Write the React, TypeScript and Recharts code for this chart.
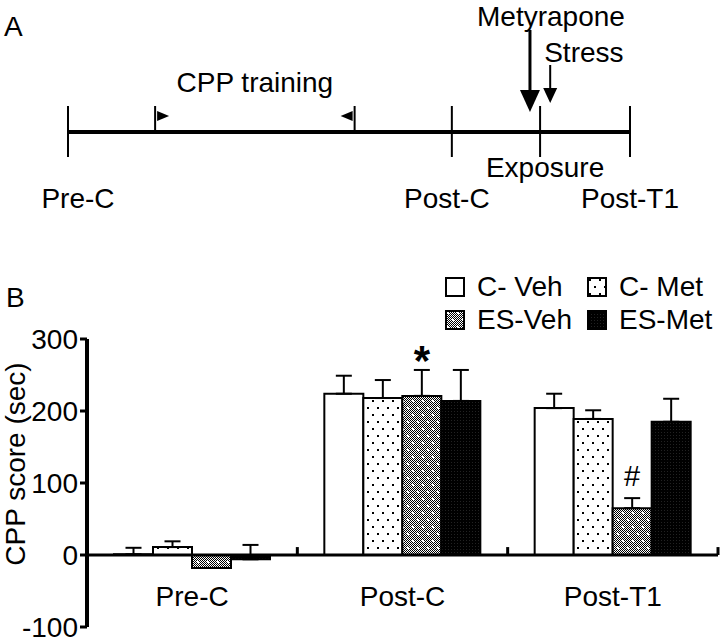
import React from "react";
import {
  BarChart,
  Bar,
  XAxis,
  YAxis,
  ErrorBar,
  ReferenceLine,
  LabelList,
  Label,
  ComposedChart,
} from "recharts";

// ---- panel B data (CPP score, sec) ----
const groups = ["Pre-C", "Post-C", "Post-T1"];
const cVeh = [1, 224, 204];
const cVehErr = [9, 25, 20];
const cMet = [11, 218, 189];
const cMetErr = [8, 25, 12];
const esVeh = [-18, 221, 65];
const esVehErr = [0, 36, 14];
const esMet = [-6, 214, 185];
const esMetErr = [20, 43, 32];
const marks = ["", "*", "#"];
const yTicks = [-100, 0, 100, 200, 300];

const series = [
  { key: "cVeh", name: "C- Veh", fill: "#ffffff" },
  { key: "cMet", name: "C- Met", fill: "url(#patCMet)" },
  { key: "esVeh", name: "ES-Veh", fill: "url(#patESVeh)" },
  { key: "esMet", name: "ES-Met", fill: "url(#patESMet)" },
];

const data = groups.map((g, i) => ({
  group: g,
  cVeh: cVeh[i],
  cVehErr: [0, cVehErr[i]],
  cMet: cMet[i],
  cMetErr: [0, cMetErr[i]],
  esVeh: esVeh[i],
  esVehErr: [0, esVehErr[i]],
  esMet: esMet[i],
  esMetErr: [0, esMetErr[i]],
  mark: marks[i],
}));

// ---- panel A timeline (schematic positions, 0 = Pre-C, 100 = Post-T1) ----
const milestones = [
  { name: "Pre-C", pos: 0 },
  { name: "Post-C", pos: 68.3 },
  { name: "Exposure", pos: 84 },
  { name: "Post-T1", pos: 100 },
];
const training = { name: "CPP training", start: 15.5, end: 51 };
const treatments = [
  { name: "Metyrapone", pos: 82.2, top: 102, tip: 20 },
  { name: "Stress", pos: 85.8, top: 67, tip: 29 },
];

const FONT = '"Liberation Sans", Arial, Helvetica, sans-serif';

function milestoneShape(name: string) {
  return (p: any) => {
    const below = name === "Exposure" ? 20 : 51;
    const dx = name === "Pre-C" ? 10 : name === "Post-C" ? -5 : name === "Exposure" ? 5 : 0;
    const bottom = Math.max(p.y1, p.y2);
    return (
      <g>
        <line x1={p.x1} y1={p.y1} x2={p.x2} y2={p.y2} stroke="#000" strokeWidth={2} />
        <text x={p.x1 + dx} y={bottom + below} textAnchor="middle" fontSize={28} fill="#000">
          {name}
        </text>
      </g>
    );
  };
}

function trainingShape(dir: 1 | -1) {
  return (p: any) => {
    const base = Math.max(p.y1, p.y2);
    const ay = base - 16;
    const x = p.x1;
    return (
      <g>
        <line x1={x} y1={p.y1} x2={x} y2={p.y2} stroke="#000" strokeWidth={2} />
        <polygon
          points={`${x + dir * 2},${ay - 5} ${x + dir * 2},${ay + 5} ${x + dir * 14},${ay}`}
          fill="#000"
        />
      </g>
    );
  };
}

function arrowShape(name: string, big: boolean) {
  return (p: any) => {
    const x = p.x1;
    const top = Math.min(p.y1, p.y2);
    const tip = Math.max(p.y1, p.y2);
    const head = big ? 22 : 15;
    const half = big ? 10 : 7;
    return (
      <g>
        <line x1={x} y1={top} x2={x} y2={tip - head + 1} stroke="#000" strokeWidth={big ? 3 : 2} />
        <polygon points={`${x - half},${tip - head} ${x + half},${tip - head} ${x},${tip}`} fill="#000" />
        {big ? (
          <text x={x + 21} y={top - 4} textAnchor="middle" fontSize={28} fill="#000">
            {name}
          </text>
        ) : (
          <text x={x - 6} y={top - 3} textAnchor="start" fontSize={28} fill="#000">
            {name}
          </text>
        )}
      </g>
    );
  };
}

const trainingLabel = (p: any) => (
  <text x={(p.x1 + p.x2) / 2} y={p.y1} textAnchor="middle" fontSize={28} fill="#000">
    {training.name}
  </text>
);

function GroupTick(p: any) {
  return (
    <text x={p.x} y={p.y - 29} textAnchor="middle" fontSize={28} fill="#000" fontFamily={FONT}>
      {p.payload.value}
    </text>
  );
}

function renderMark(p: any) {
  const vb = p.viewBox ?? p;
  const i = p.index;
  const m = marks[i];
  if (!m) return null;
  const pxPerUnit = Math.abs(vb.height) / Math.abs(esVeh[i]);
  const barTop = Math.min(vb.y, vb.y + vb.height);
  const errTop = barTop - esVehErr[i] * pxPerUnit;
  const cx = vb.x + vb.width / 2;
  if (m === "*") {
    return (
      <text x={cx} y={errTop + 5} textAnchor="middle" fontSize={42} fontWeight="bold" fill="#000">
        *
      </text>
    );
  }
  return (
    <text x={cx} y={errTop - 12} textAnchor="middle" fontSize={29} fill="#000">
      {m}
    </text>
  );
}

const yLabel = (p: any) => {
  const vb = p.viewBox;
  const cx = 15;
  const cy = vb.y + vb.height / 2 - 19;
  return (
    <text
      x={cx}
      y={cy}
      transform={`rotate(-90, ${cx}, ${cy})`}
      textAnchor="middle"
      dominantBaseline="central"
      fontSize={28}
      fill="#000"
    >
      CPP score (sec)
    </text>
  );
};

function Swatch({ fill }: { fill: string }) {
  return (
    <svg width={20} height={20} style={{ display: "block" }}>
      <rect x={1} y={1} width={18} height={18} fill={fill} stroke="#000" strokeWidth={2} />
    </svg>
  );
}

export default function App() {
  return (
    <div
      style={{
        position: "absolute",
        left: 0,
        top: 0,
        width: 720,
        height: 642,
        background: "#fff",
        fontFamily: FONT,
        color: "#000",
        overflow: "hidden",
      }}
    >
      <div style={{ position: "absolute", left: 4, top: 13, fontSize: 28, lineHeight: "28px" }}>A</div>
      <div style={{ position: "absolute", left: 6, top: 284, fontSize: 28, lineHeight: "28px" }}>B</div>

      {/* Panel A: experimental timeline */}
      <ComposedChart
        width={720}
        height={215}
        data={milestones}
        margin={{ top: 0, right: 90, bottom: 0, left: 68 }}
        style={{ position: "absolute", left: 0, top: 0, fontFamily: FONT }}
      >
        <XAxis type="number" dataKey="pos" domain={[0, 100]} allowDataOverflow hide />
        <YAxis type="number" domain={[-83, 132]} allowDataOverflow hide />
        <ReferenceLine
          segment={[
            { x: 0, y: 0 },
            { x: 100, y: 0 },
          ]}
          stroke="#000"
          strokeWidth={4}
        />
        {milestones.map((m) => (
          <ReferenceLine
            key={m.name}
            segment={[
              { x: m.pos, y: 26 },
              { x: m.pos, y: -25 },
            ]}
            shape={milestoneShape(m.name)}
          />
        ))}
        <ReferenceLine
          segment={[
            { x: training.start, y: 0 },
            { x: training.start, y: 26 },
          ]}
          shape={trainingShape(1)}
        />
        <ReferenceLine
          segment={[
            { x: training.end, y: 0 },
            { x: training.end, y: 26 },
          ]}
          shape={trainingShape(-1)}
        />
        <ReferenceLine
          segment={[
            { x: training.start, y: 40 },
            { x: training.end, y: 40 },
          ]}
          shape={trainingLabel}
        />
        {treatments.map((t, i) => (
          <ReferenceLine
            key={t.name}
            segment={[
              { x: t.pos, y: t.top },
              { x: t.pos, y: t.tip },
            ]}
            shape={arrowShape(t.name, i === 0)}
          />
        ))}
      </ComposedChart>

      {/* Panel B: CPP scores */}
      <BarChart
        width={720}
        height={412}
        data={data}
        margin={{ top: 109, right: 2, bottom: 0, left: 0 }}
        barGap={0}
        style={{ position: "absolute", left: 0, top: 230, fontFamily: FONT }}
      >
        <defs>
          <pattern id="patCheck" width={2} height={2} patternUnits="userSpaceOnUse">
            <rect width={2} height={2} fill="#fff" />
            <rect width={1} height={1} fill="#000" />
            <rect x={1} y={1} width={1} height={1} fill="#000" />
          </pattern>
          <pattern id="patCMet" width={10} height={14} patternUnits="userSpaceOnUse">
            <rect width={10} height={14} fill="#fff" />
            <rect x={2} y={2} width={2} height={2} fill="#000" />
            <rect x={7} y={9} width={2} height={2} fill="#000" />
          </pattern>
          <pattern id="patESVeh" width={10} height={14} patternUnits="userSpaceOnUse">
            <rect width={10} height={14} fill="url(#patCheck)" />
            <rect x={2} y={2} width={2} height={2} fill="#fff" />
            <rect x={7} y={9} width={2} height={2} fill="#fff" />
          </pattern>
          <pattern id="patESMet" width={3} height={3} patternUnits="userSpaceOnUse">
            <rect width={3} height={3} fill="#000" />
            <rect x={1} y={1} width={1} height={1} fill="#222" />
          </pattern>
        </defs>
        <XAxis
          dataKey="group"
          axisLine={false}
          tickLine={false}
          height={15}
          interval={0}
          tick={<GroupTick />}
        />
        <YAxis
          domain={[-100, 300]}
          ticks={yTicks}
          width={87}
          axisLine={{ stroke: "#000", strokeWidth: 4 }}
          tickLine={{ stroke: "#000", strokeWidth: 3 }}
          tickSize={7}
          tickMargin={2}
          tick={{ fill: "#000", fontSize: 28 }}
          interval={0}
        >
          <Label content={yLabel} />
        </YAxis>
        {series.map((s) => (
          <Bar
            key={s.key}
            dataKey={s.key}
            name={s.name}
            fill={s.fill}
            stroke="#000"
            strokeWidth={2}
            barSize={39}
            isAnimationActive={false}
          >
            <ErrorBar dataKey={`${s.key}Err`} width={8} stroke="#000" strokeWidth={2} direction="y" />
            {s.key === "esVeh" && <LabelList dataKey="mark" content={renderMark} />}
          </Bar>
        ))}
        <ReferenceLine y={0} stroke="#000" strokeWidth={3} />
        {groups.map((g) => (
          <ReferenceLine
            key={g}
            segment={[
              { x: g, y: 0 },
              { x: g, y: 11 },
            ]}
            position="end"
            stroke="#000"
            strokeWidth={3}
          />
        ))}
      </BarChart>

      {/* legend */}
      {series.map((s, i) => (
        <div
          key={s.key}
          style={{
            position: "absolute",
            left: i % 2 === 0 ? 445 : 587,
            top: i < 2 ? 273 : 306,
            display: "flex",
            alignItems: "center",
            gap: 12,
            height: 28,
            fontSize: 28,
            lineHeight: "28px",
            whiteSpace: "nowrap",
          }}
        >
          <Swatch fill={s.fill} />
          <span>{s.name}</span>
        </div>
      ))}
    </div>
  );
}
